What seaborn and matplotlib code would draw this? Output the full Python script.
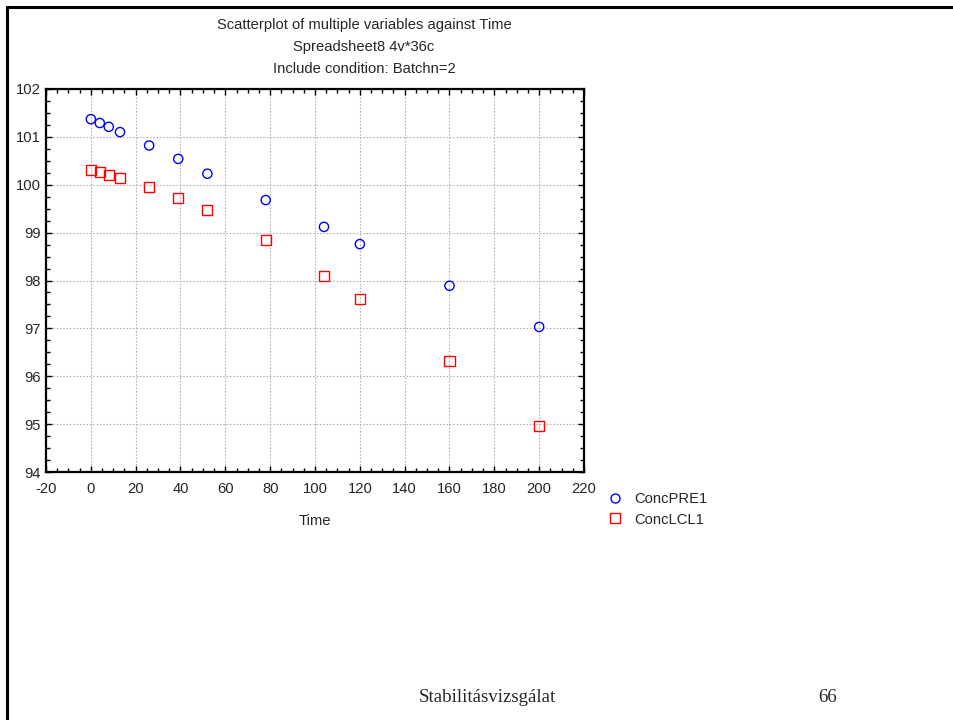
import matplotlib
matplotlib.use("Agg")
import matplotlib.pyplot as plt
from matplotlib.lines import Line2D
from matplotlib.ticker import MultipleLocator
import numpy as np
import pandas as pd
import seaborn as sns

# Stability data: concentration vs. time, batch 2
time = [0, 4, 8, 13, 26, 39, 52, 78, 104, 120, 160, 200]
conc_pre1 = [101.37, 101.29, 101.21, 101.10, 100.82, 100.54, 100.23,
             99.68, 99.12, 98.76, 97.89, 97.03]
conc_lcl1 = [100.31, 100.26, 100.20, 100.14, 99.95, 99.73, 99.48,
             98.84, 98.09, 97.62, 96.31, 94.97]
series_names = ["ConcPRE1", "ConcLCL1"]
series_colors = ["#0000ff", "#ff0000"]
series_markers = ["o", "s"]
x_ticks = list(range(-20, 221, 20))
y_ticks = list(range(94, 103))
title_lines = ["Scatterplot of multiple variables against Time",
               "Spreadsheet8 4v*36c",
               "Include condition: Batchn=2"]
footer_text = "Stabilitásvizsgálat"
page_number = "66"

df = pd.DataFrame({
    "Time": time * 2,
    "Value": conc_pre1 + conc_lcl1,
    "Variable": [series_names[0]] * len(time) + [series_names[1]] * len(time),
})

sns.set_style("white")
plt.rcParams["font.family"] = ["Liberation Sans", "DejaVu Sans"]
plt.rcParams["axes.unicode_minus"] = False

FS = 10.6

fig = plt.figure(figsize=(9.54, 7.2), dpi=100)
ax = fig.add_axes([46 / 954, 1 - 472 / 720, 538 / 954, 383 / 720])

for name, col, mk in zip(series_names, series_colors, series_markers):
    sub = df[df["Variable"] == name]
    sns.scatterplot(data=sub, x="Time", y="Value", ax=ax, color=col,
                    marker=mk, facecolor="none", edgecolor=col,
                    linewidth=1.0, s=44 if mk == "o" else 52,
                    label=name, legend=False, zorder=3)

ax.set_xlim(-20, 220)
ax.set_ylim(94, 102)
ax.set_xticks(x_ticks)
ax.set_yticks(y_ticks)
ax.xaxis.set_minor_locator(MultipleLocator(5))
ax.yaxis.set_minor_locator(MultipleLocator(0.25))
ax.tick_params(which="both", direction="in", top=True, right=True,
               bottom=True, left=True, length=4, width=1.0, color="black",
               labelsize=FS)
ax.tick_params(which="minor", length=3)
ax.tick_params(axis="x", which="major", pad=7)
ax.tick_params(axis="y", which="major", pad=4)
ax.grid(True, which="major", color="#b4b4b4", linestyle=(0, (1.5, 1.5)),
        linewidth=0.8, zorder=0)
for sp in ax.spines.values():
    sp.set_color("black")
    sp.set_linewidth(1.6)
ax.set_xlabel("Time", fontsize=FS, labelpad=13)
ax.set_ylabel("")

# stacked title lines
for i, line in enumerate(title_lines):
    fig.text(364 / 954, 1 - (25 + 22 * i) / 720, line, ha="center",
             va="center", fontsize=FS)

# legend to the lower right of the plot
handles = [Line2D([], [], linestyle="none", marker=mk, markersize=6.5,
                  markerfacecolor="none", markeredgecolor=col,
                  markeredgewidth=1.0)
           for col, mk in zip(series_colors, series_markers)]
fig.legend(handles, series_names, loc="upper left",
           bbox_to_anchor=(606 / 954, 1 - 492 / 720), frameon=False,
           fontsize=FS, handlelength=1.2, handletextpad=0.7,
           labelspacing=0.45, borderpad=0, borderaxespad=0)

# page frame and footer
fig.add_artist(Line2D([7 / 954, 1.0], [1 - 7 / 720, 1 - 7 / 720],
                      color="black", linewidth=2.2,
                      transform=fig.transFigure))
fig.add_artist(Line2D([7 / 954, 7 / 954], [0, 1 - 7 / 720],
                      color="black", linewidth=2.2,
                      transform=fig.transFigure))
fig.text(487 / 954, 1 - 698 / 720, footer_text, ha="center", va="center",
         fontsize=13.6, family=["Liberation Serif", "DejaVu Serif"])
fig.text(828 / 954, 1 - 698 / 720, page_number, ha="center", va="center",
         fontsize=13.6, family=["Liberation Serif", "DejaVu Serif"])

fig.savefig("out.png", dpi=100, facecolor="white")
